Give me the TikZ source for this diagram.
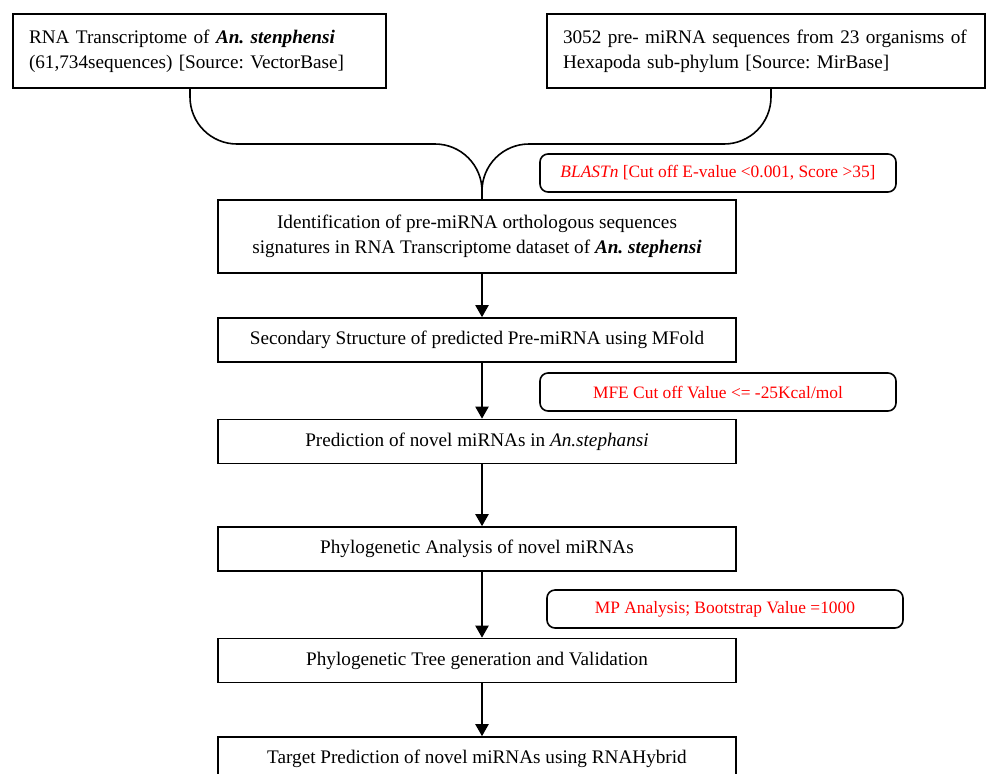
\documentclass[tikz,border=0pt]{standalone}
\usepackage{fontspec}
\setmainfont{Liberation Serif}
\usepackage{tikz}
\usetikzlibrary{arrows.meta}
\frenchspacing

\begin{document}
\begin{tikzpicture}[
    x=0.5pt, y=-0.5pt,
    source/.style={draw, line width=0.8pt, align=left, inner xsep=8pt, inner ysep=0pt, minimum height=37pt, font=\fontsize{9.6}{12.5}\selectfont},
    stage/.style={draw, line width=0.8pt, align=center, minimum width=259pt, minimum height=22pt, inner sep=0pt, font=\fontsize{9.6}{12.5}\selectfont},
    criterion/.style={draw, rounded corners=4pt, line width=0.8pt, minimum width=178pt, minimum height=19pt, inner sep=0pt, text=red, font=\fontsize{8.7}{10.5}\selectfont},
    arrow/.style={-{Triangle[length=6pt,width=6.5pt]}, line width=1pt},
    merge/.style={line width=0.8pt, rounded corners=23.5pt}
]
\useasboundingbox (0,0) rectangle (986,773);
\clip (0,0) rectangle (986,773);

\node[source, text width=170.5pt] (src1) at (199.5,51) {RNA Transcriptome of \textbf{\textit{An. stenphensi}}\\(61,734sequences) [Source: VectorBase]};
\node[source, text width=203pt] (src2) at (766,51) {3052 pre- miRNA sequences from 23 organisms of\\Hexapoda sub-phylum [Source: MirBase]};

\node[criterion] (blast) at (718,173) {\textit{BLASTn} [Cut off E-value <0.001, Score >35]};
\node[stage, minimum height=36.5pt] (ident) at (477,236.5) {Identification of pre-miRNA orthologous sequences\\signatures in RNA Transcriptome dataset of \textbf{\textit{An. stephensi}}};
\node[stage] (sec) at (477,340) {Secondary Structure of predicted Pre-miRNA using MFold};
\node[criterion] (mfe) at (718,392) {MFE Cut off Value <= -25Kcal/mol};
\node[stage] (pred) at (477,441.5) {Prediction of novel miRNAs in \textit{An.stephansi}};
\node[stage] (phylo) at (477,549) {Phylogenetic Analysis of novel miRNAs};
\node[criterion] (mp) at (725,609) {MP Analysis; Bootstrap Value =1000};
\node[stage] (tree) at (477,660.5) {Phylogenetic Tree generation and Validation};
\node[stage] (target) at (477,759) {Target Prediction of novel miRNAs using RNAHybrid};

\coordinate (fork) at (482,144);

\draw[merge] ([xshift=-4.75pt]src1.south) |- (fork) -- (ident.north -| fork);
\draw[merge] ([xshift=2.5pt]src2.south) |- (fork) -- (ident.north -| fork);

\draw[arrow] (ident.south -| fork) -- (sec.north -| fork);
\draw[arrow] (sec.south -| fork) -- (pred.north -| fork);
\draw[arrow] (pred.south -| fork) -- (phylo.north -| fork);
\draw[arrow] (phylo.south -| fork) -- (tree.north -| fork);
\draw[arrow] (tree.south -| fork) -- (target.north -| fork);
\end{tikzpicture}
\end{document}
